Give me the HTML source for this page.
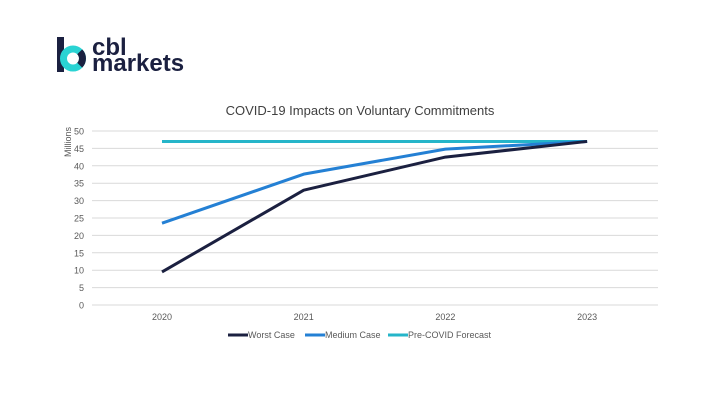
<!DOCTYPE html>
<html><head><meta charset="utf-8"><style>
body{margin:0;width:720px;height:405px;background:#fff;overflow:hidden;font-family:"Liberation Sans",sans-serif}
svg{position:absolute;left:0;top:0}
</style></head><body>
<svg width="720" height="405">
<g>
<rect x="57" y="37" width="7" height="35" fill="#1b2040"/>
<circle cx="73" cy="58.5" r="9.5" fill="none" stroke="#2ad3d3" stroke-width="7"/>
<path d="M 79.7 51.8 A 9.5 9.5 0 0 1 79.7 65.2" fill="none" stroke="#1b2040" stroke-width="7"/>
<text x="92" y="55" font-size="24" font-weight="bold" fill="#1b2040">cbl</text>
<text x="92" y="71" font-size="24" font-weight="bold" fill="#1b2040">markets</text>
</g>
<text x="360" y="115" font-size="13" fill="#404040" text-anchor="middle">COVID-19 Impacts on Voluntary Commitments</text>
<text transform="translate(71,142) rotate(-90)" font-size="9" fill="#595959" text-anchor="middle">Millions</text>
<g id="grid"></g><g id="series"></g><g id="legend"></g>
</svg>
<script>
const years=["2020","2021","2022","2023"];
const yTicks=[0,5,10,15,20,25,30,35,40,45,50];
const worst=[9.5,33,42.5,47];
const medium=[23.5,37.6,44.8,47];
const precovid=[47,47,47,47];
const NS="http://www.w3.org/2000/svg";
const x=i=>162+i*141.7, y=v=>305-v*3.48;
function mk(t,a,p){const e=document.createElementNS(NS,t);for(const k in a)e.setAttribute(k,a[k]);p.appendChild(e);return e;}
const g=document.getElementById('grid');
yTicks.forEach(v=>{
 const l=mk('line',{x1:92,x2:658,y1:y(v),y2:y(v),stroke:'#d9d9d9','stroke-width':1},g);
 
 
 const t=mk('text',{x:84,y:y(v)+3.5,'font-size':9,fill:'#595959','text-anchor':'end'},g);t.textContent=v;
 
 
});
years.forEach((yr,i)=>{
 const t=mk('text',{x:x(i),y:320,'font-size':9,fill:'#595959','text-anchor':'middle'},g);t.textContent=yr;
 
 
});
const s=document.getElementById('series');
const series=[["pre-covid-line",precovid,"#25b5c9"],["medium-case-line",medium,"#2480d4"],["worst-case-line",worst,"#1b2040"]];
series.forEach(([n,d,c])=>{
 const p=mk('polyline',{points:d.map((v,i)=>x(i)+','+y(v)).join(' '),fill:'none',stroke:c,'stroke-width':3,'stroke-linejoin':'round'},s);
 
 
});
const lg=document.getElementById('legend');
[["Worst Case","#1b2040",228],["Medium Case","#2480d4",305],["Pre-COVID Forecast","#25b5c9",388]].forEach(([n,c,lx])=>{
 const l=mk('line',{x1:lx,x2:lx+20,y1:335,y2:335,stroke:c,'stroke-width':3},lg);
 
 
 const t=mk('text',{x:lx+20,y:338,'font-size':9,fill:'#595959'},lg);t.textContent=n;
 
 
});
</script>
</body></html>
